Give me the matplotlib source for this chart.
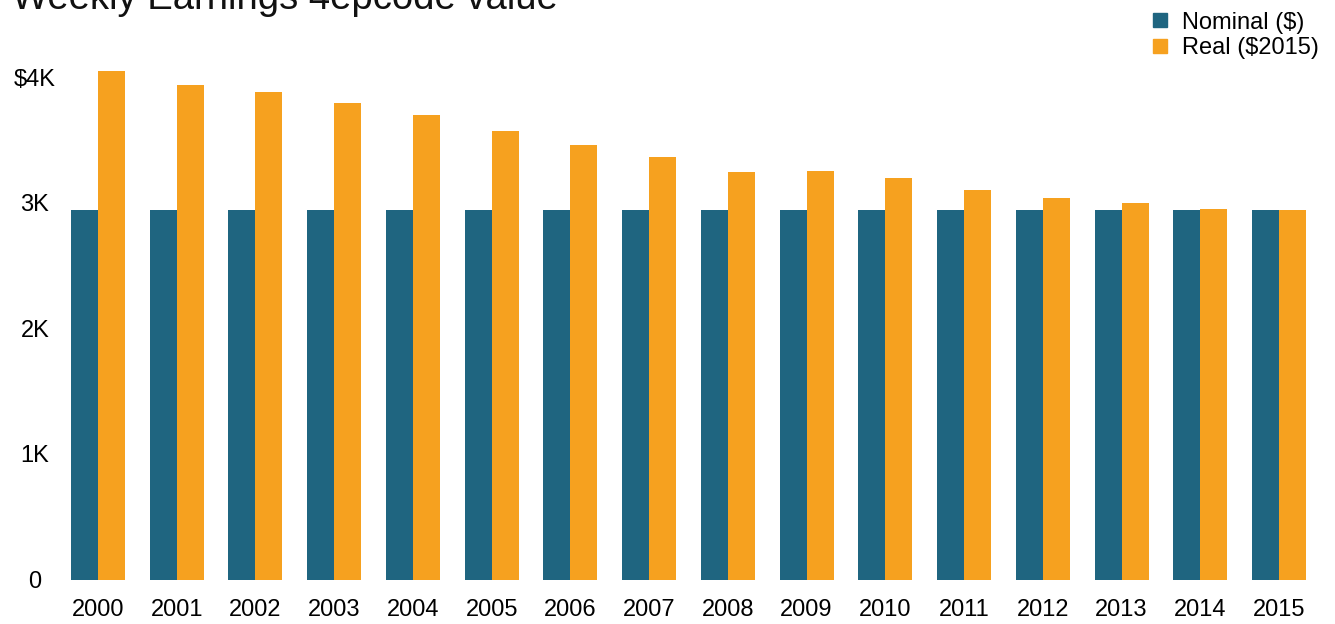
import numpy as np
import matplotlib
matplotlib.use('Agg')
import matplotlib.pyplot as plt
from matplotlib.lines import Line2D

# weekly earnings, nominal vs. inflation adjusted to 2015 dollars
years = ['2000', '2001', '2002', '2003', '2004', '2005', '2006', '2007',
         '2008', '2009', '2010', '2011', '2012', '2013', '2014', '2015']
nominal = [2942] * 16
real_2015 = [4049, 3937, 3881, 3794, 3698, 3571, 3459, 3364,
             3244, 3252, 3197, 3101, 3037, 2998, 2950, 2942]
y_ticks = [0, 1000, 2000, 3000, 4000]
y_labels = ['0', '1K', '2K', '3K', '$4K']

c_nom = '#1f6580'
c_real = '#f6a11f'

plt.rcParams['font.family'] = ['Liberation Sans', 'DejaVu Sans']

fig = plt.figure(figsize=(13.35, 6.24), dpi=100)
ax = fig.add_axes([71 / 1335, 44.5 / 624, 1235 / 1335, 515 / 624])

x = np.arange(len(years))
w = 0.343
ax.bar(x - w / 2, nominal, width=w, color=c_nom, linewidth=0)
ax.bar(x + w / 2, real_2015, width=w, color=c_real, linewidth=0)

ax.set_xlim(-w, len(years) - 1 + w)
ax.set_ylim(0, 4100)
ax.set_xticks(x)
ax.set_xticklabels(years, fontsize=17)
ax.set_yticks(y_ticks)
ax.set_yticklabels(y_labels, fontsize=17, ha='center')
ax.tick_params(axis='x', length=0, pad=14)
ax.tick_params(axis='y', length=0, pad=26)
for s in ax.spines.values():
    s.set_visible(False)

# title sits partly above the top edge
fig.text(12 / 1335, 1 - 9 / 624, 'Weekly Earnings 4epcode value',
         fontsize=27.5, va='baseline', ha='left', color='#111111')

handles = [Line2D([], [], marker='s', linestyle='', markersize=10, color=c_nom),
           Line2D([], [], marker='s', linestyle='', markersize=10, color=c_real)]
fig.legend(handles, ['Nominal ($)', 'Real ($2015)'], loc='upper right',
           bbox_to_anchor=(1.0, 1.008), frameon=False, fontsize=17,
           handletextpad=0.3, labelspacing=0.15, handlelength=1.2,
           borderaxespad=0.3)

fig.savefig('out.png', dpi=100)
